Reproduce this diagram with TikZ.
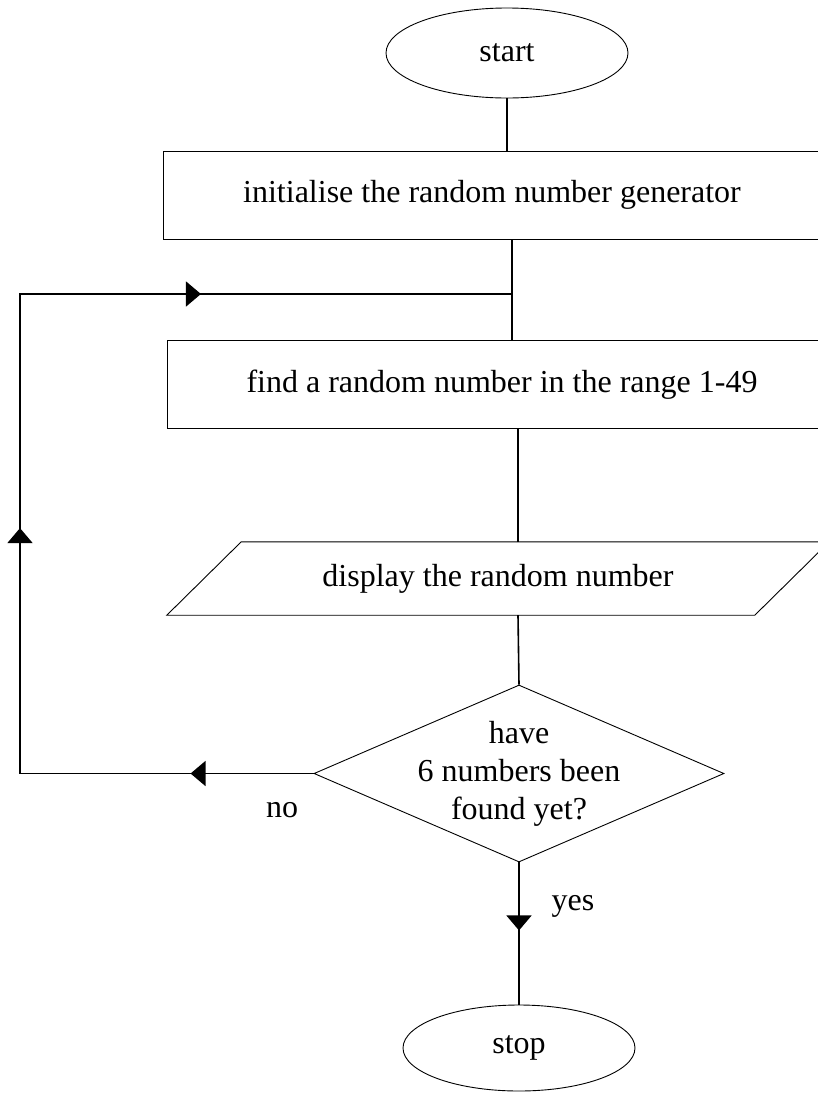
\documentclass[tikz,border=0pt]{standalone}
\usepackage{fontspec}
\setmainfont{Liberation Serif}
\usetikzlibrary{shapes.geometric,arrows.meta,decorations.markings}
\tikzset{
  terminal/.style={draw,ellipse,line width=0.9pt,minimum width=242pt,minimum height=90pt,inner sep=0pt},
  process/.style={draw,rectangle,line width=0.9pt,minimum height=88pt,inner sep=0pt},
  io/.style={rectangle,minimum width=662pt,minimum height=73pt,inner sep=0pt},
  decision/.style={draw,diamond,line width=0.9pt,minimum width=410pt,minimum height=177pt,inner sep=0pt},
  flow/.style={line width=1.6pt},
  tip at/.style={postaction={decorate,decoration={markings,
    mark=at position #1 with {\arrow{Triangle[length=15pt,width=25pt]}}}}}
}

\begin{document}
\begin{tikzpicture}[x=1pt,y=-1pt,every node/.style={font=\fontsize{32}{38}\selectfont}]
  \useasboundingbox (0,0) rectangle (818,1093);
  % boxes
  \node[terminal] (start) at (507,53) {start};
  \node[process,minimum width=658pt] (init) at (492,195) {initialise the random number generator};
  \node[process,minimum width=670pt] (find) at (502,384.5) {find a random number in the range 1-49};
  \node[io] (disp) at (498,578.5) {display the random number};
  \draw[line width=0.9pt] (disp.south west) -- ++(588,0) -- (disp.north east)
    -- ++(-588,0) -- cycle;
  \node[decision] (check) at (519,773.5) {};
  \node[align=center] (checktext) at (check) {have\\6 numbers been\\found yet?};
  \node[terminal,minimum width=232pt,minimum height=86pt] (stop) at (519,1048) {stop};
  \node[anchor=base] (no) at (282,817) {no};
  \node[anchor=base] (yes) at (573,910) {yes};
  % helper points
  \coordinate (join) at (512,294);
  \coordinate (spine) at (518,0);
  \coordinate (loopbl) at (20,773.5);
  \coordinate (looptl) at (20,294);
  % connectors
  \draw[flow] (start.south) -- (start.south |- init.north);
  \draw[flow] (init.south -| join) -- (find.north -| join);
  \draw[flow] (find.south -| spine) -- (disp.north -| spine);
  \draw[flow] (disp.south -| spine) -- (check.north);
  \draw[flow,tip at=68pt] (check.south) -- (stop.north);
  \draw[flow,tip at=123pt,tip at=539pt,tip at=954pt]
    (check.west) -- (loopbl) -- (looptl) -- (join);
\end{tikzpicture}
\end{document}
